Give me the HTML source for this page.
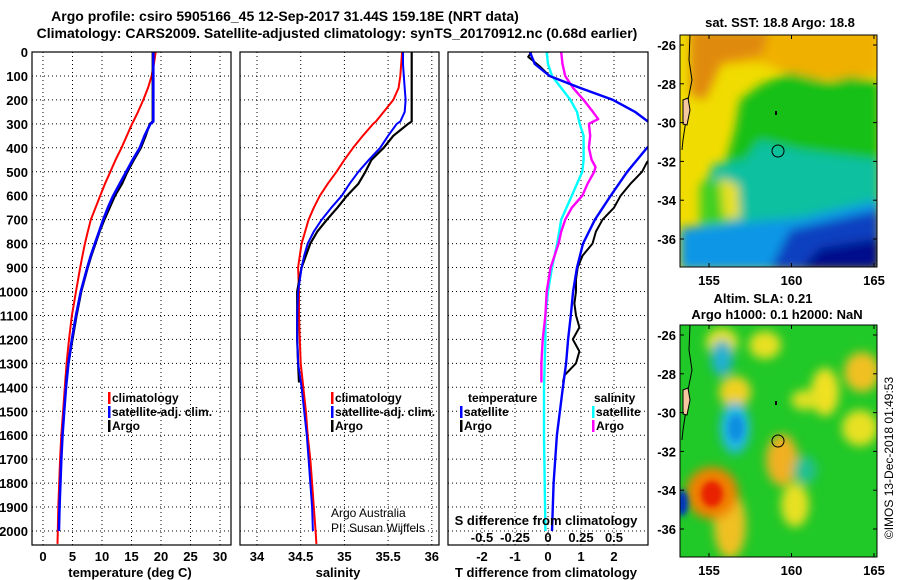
<!DOCTYPE html>
<html><head><meta charset="utf-8"><style>
html,body{margin:0;padding:0;background:#fff;}
svg{display:block;font-family:"Liberation Sans",sans-serif;}
.b{font-weight:bold;}
</style></head><body>
<svg id="c" width="900" height="580" viewBox="0 0 900 580">
<defs>
<clipPath id="cp1"><rect x="32" y="52" width="199" height="493"/></clipPath>
<clipPath id="cp2"><rect x="240" y="52" width="199" height="493"/></clipPath>
<clipPath id="cp3"><rect x="448" y="52" width="200" height="493"/></clipPath>
<clipPath id="cpm1"><rect x="680" y="35" width="197" height="232"/></clipPath>
<clipPath id="cpm2"><rect x="680" y="325" width="197" height="232"/></clipPath>
<filter id="bl" x="-50%" y="-50%" width="200%" height="200%"><feGaussianBlur stdDeviation="5"/></filter>
<filter id="bl2" x="-50%" y="-50%" width="200%" height="200%"><feGaussianBlur stdDeviation="3"/></filter>
</defs>
<text class="b" x="285" y="21" font-size="14" text-anchor="middle">Argo profile: csiro 5905166_45 12-Sep-2017 31.44S 159.18E (NRT data)</text>
<text class="b" x="337" y="38" font-size="14" text-anchor="middle">Climatology: CARS2009. Satellite-adjusted climatology: synTS_20170912.nc (0.68d earlier)</text>

<!-- top map -->
<g clip-path="url(#cpm1)">
<rect x="680" y="35" width="197" height="232" fill="#f0dc00"/>
<g filter="url(#bl)">
<path d="M690,30 L880,30 L880,75 L840,80 L800,78 L760,62 L720,65 L700,90 Z" fill="#f0b000"/>
<path d="M690,30 L770,30 L762,55 L722,62 L705,100 L690,95 Z" fill="#e08a10"/>
<path d="M740,100 L760,85 L790,72 L830,82 L850,76 L880,82 L880,200 L700,210 L700,185 L725,165 L735,130 Z" fill="#14c014"/>
<path d="M712,165 L745,160 L760,140 L800,150 L880,160 L880,235 L700,235 Z" fill="#10c0a0"/>
<path d="M700,185 L720,180 L730,225 L700,230 Z" fill="#40d020"/>
<path d="M720,178 L738,185 L740,218 L724,218 Z" fill="#e8e020"/>
<path d="M680,228 L800,218 L880,200 L880,270 L680,270 Z" fill="#0a96e6"/>
<path d="M790,230 L880,210 L880,270 L770,270 Z" fill="#0a40c0"/>
<path d="M820,248 L880,238 L880,270 L800,270 Z" fill="#00108c"/>
</g>
<path d="M690,35 L689,60 L692,80 L688,100 L686,120 L683,140 L682,150" fill="none" stroke="#000" stroke-width="1"/>
<path d="M683,100 L688,98 L690,110 L687,125 L683,124 Z" fill="#f5c8a0" stroke="#000" stroke-width="1"/>
<circle cx="778" cy="151" r="6" fill="none" stroke="#000" stroke-width="1"/>
<rect x="775" y="111" width="2" height="4" fill="#000"/>
</g>
<rect x="680" y="35" width="197" height="232" fill="none" stroke="#000"/>
<text class="b" x="780" y="27" font-size="13" text-anchor="middle">sat. SST: 18.8 Argo: 18.8</text>

<!-- bottom map -->
<g clip-path="url(#cpm2)">
<rect x="680" y="325" width="197" height="232" fill="#20c828"/>
<g filter="url(#bl)">
<ellipse cx="722" cy="342" rx="16" ry="14" fill="#e8e020"/>
<ellipse cx="765" cy="345" rx="16" ry="14" fill="#e8e020"/>
<ellipse cx="825" cy="392" rx="14" ry="24" fill="#f0e020"/>
<ellipse cx="862" cy="372" rx="18" ry="20" fill="#f0c020"/>
<ellipse cx="735" cy="392" rx="16" ry="16" fill="#f0d020"/>
<ellipse cx="860" cy="428" rx="18" ry="18" fill="#e8e020"/>
<ellipse cx="805" cy="400" rx="14" ry="10" fill="#e0e020"/>
<ellipse cx="782" cy="460" rx="16" ry="26" fill="#f0b020"/>
<ellipse cx="795" cy="505" rx="14" ry="22" fill="#e8e020"/>
<ellipse cx="730" cy="525" rx="16" ry="34" fill="#f0c020"/>
<ellipse cx="722" cy="358" rx="11" ry="18" fill="#20b0d0"/>
<ellipse cx="735" cy="428" rx="15" ry="26" fill="#20b8e0"/>
<ellipse cx="805" cy="470" rx="12" ry="14" fill="#20c090"/>
<ellipse cx="712" cy="493" rx="26" ry="26" fill="#f08000"/>
</g>
<g filter="url(#bl2)">
<ellipse cx="736" cy="428" rx="8" ry="13" fill="#1090e0"/>
<ellipse cx="712" cy="494" rx="11" ry="13" fill="#e82000"/>
<ellipse cx="682" cy="503" rx="6" ry="13" fill="#0030c0"/>
</g>
<path d="M690,325 L689,350 L692,370 L688,390 L686,410 L683,430 L682,440" fill="none" stroke="#000" stroke-width="1"/>
<path d="M683,390 L688,388 L690,400 L687,415 L683,414 Z" fill="#f5c8a0" stroke="#000" stroke-width="1"/>
<circle cx="778" cy="441" r="6" fill="none" stroke="#000" stroke-width="1"/>
<rect x="775" y="401" width="2" height="4" fill="#000"/>
</g>
<rect x="680" y="325" width="197" height="232" fill="none" stroke="#000"/>
<text class="b" x="763" y="303" font-size="13" text-anchor="middle">Altim. SLA: 0.21</text>
<text class="b" x="777" y="319" font-size="13" text-anchor="middle">Argo h1000: 0.1 h2000: NaN</text>
<text x="893" y="458" font-size="12" text-anchor="middle" transform="rotate(-90 893 458)">©IMOS 13-Dec-2018 01:49:53</text>
<g id="maplabels"></g>
<g id="plots"></g>
</svg>
<script>
// ---- data ----
const depthT = [0,50,100,150,200,250,290,300,350,400,450,500,550,600,650,700,750,800,850,900,1000,1100,1200,1300,1400,1500,1600,1700,1800,1900,2000];
const satT = [18.7,18.7,18.7,18.7,18.7,18.7,18.7,18.2,17.2,16.4,15.2,14.1,13.0,11.9,11.0,10.2,9.5,8.8,8.1,7.5,6.4,5.6,4.9,4.3,3.9,3.6,3.3,3.1,2.95,2.8,2.7];
const depthClim = [0,50,100,150,200,250,290,300,350,400,450,500,550,600,650,700,750,800,850,900,1000,1100,1200,1300,1400,1500,1600,1700,1800,1900,2000,2054];
const climT = [19.1,18.8,18.4,17.8,17.0,16.1,15.3,15.1,14.2,13.3,12.3,11.4,10.5,9.7,8.9,8.1,7.6,7.1,6.7,6.3,5.6,4.9,4.4,4.0,3.7,3.4,3.1,2.9,2.75,2.6,2.5,2.45];
const depthArgo = [0,50,100,150,200,250,290,300,350,400,450,500,550,600,650,700,750,800,850,900,1000,1100,1200,1300,1380];
const argoT = [18.6,18.6,18.6,18.6,18.6,18.6,18.6,18.1,17.4,16.6,15.4,14.3,13.4,12.2,11.3,10.4,9.6,8.9,8.2,7.6,6.5,5.7,5.0,4.3,3.9];
const satS = [35.67,35.67,35.68,35.69,35.70,35.69,35.64,35.60,35.50,35.41,35.28,35.16,35.06,34.97,34.85,34.74,34.65,34.58,34.54,34.51,34.47,34.46,34.46,34.47,34.51,34.54,34.57,34.59,34.61,34.63,34.64];
const climS = [35.66,35.65,35.64,35.62,35.56,35.45,35.36,35.33,35.21,35.10,35.00,34.91,34.81,34.72,34.65,34.59,34.55,34.51,34.49,34.47,34.48,34.48,34.49,34.50,34.53,34.56,34.58,34.61,34.63,34.65,34.67,34.68];
const argoS = [35.77,35.77,35.77,35.77,35.77,35.77,35.77,35.73,35.56,35.45,35.31,35.24,35.16,35.03,34.92,34.80,34.69,34.61,34.56,34.51,34.46,34.46,34.46,34.47,34.48];
const depthSatTd = [0,50,100,150,200,250,290,350,400,500,600,700,800,900,1000,1100,1200,1300,1400,1500,1600,1800,2000];
const satTd = [-0.55,-0.4,0.05,0.97,1.97,2.64,3.03,3.6,3.0,2.4,1.9,1.42,1.06,0.88,0.76,0.69,0.61,0.55,0.45,0.36,0.27,0.17,0.12];
const depthArgoTd = [0,20,60,100,150,200,250,290,350,460,500,550,600,650,700,750,800,850,900,950,1000,1050,1100,1150,1200,1250,1300,1350,1380];
const argoTd = [-0.5,-0.6,-0.25,0.05,0.97,1.97,2.64,3.03,3.8,3.0,2.85,2.5,2.2,2.0,1.65,1.45,1.35,1.05,0.9,0.85,0.85,0.8,0.85,0.95,0.75,0.95,0.85,0.5,0.45];
const depthSatSd = [0,50,100,150,200,250,300,350,400,450,500,550,600,650,700,800,900,1000,1100,1200,1400,1600,2000];
const satSd = [-0.01,0.0,0.03,0.1,0.17,0.22,0.24,0.27,0.27,0.27,0.26,0.22,0.18,0.14,0.1,0.07,0.03,0.0,-0.02,-0.02,-0.03,-0.03,-0.02];
const depthArgoSd = [0,50,100,150,200,250,280,300,350,400,450,480,500,550,600,650,700,750,800,900,1000,1100,1200,1300,1380];
const argoSd = [0.1,0.11,0.13,0.19,0.27,0.34,0.38,0.31,0.32,0.31,0.33,0.36,0.35,0.3,0.26,0.18,0.13,0.1,0.08,0.02,-0.01,-0.02,-0.04,-0.05,-0.05];
const depthTicks = [0,100,200,300,400,500,600,700,800,900,1000,1100,1200,1300,1400,1500,1600,1700,1800,1900,2000];
const tempTicks = [0,5,10,15,20,25,30];
const salTicks = [34,34.5,35,35.5,36];
const salTickLabels = ["34","34.5","35","35.5","36"];
const tdTicks = [-2,-1,0,1,2];
const sdTicks = [-0.5,-0.25,0,0.25,0.5];
const sdTickLabels = ["-0.5","-0.25","0","0.25","0.5"];
const latTicks = [-26,-28,-30,-32,-34,-36];
const lonTicks = [155,160,165];

// ---- axes ----
const TOP=52, BOT=545;
const yD = d => TOP + d*0.2395;
const xT = t => 43 + 5.9*t;
const xS = s => 257 + 87.4*(s-34);
const xTd = d => 548 + 33*d;
const xSd = d => 548 + 132*d;
const yLat = (lat,off) => 45 + off + (-26-lat)*19.4;
const xLon = lon => 709 + 16.5*(lon-155);
const NS='http://www.w3.org/2000/svg';
const root=document.getElementById('plots');
function mk(tag, attrs, parent){const e=document.createElementNS(NS,tag);for(const k in attrs)e.setAttribute(k,attrs[k]);(parent||root).appendChild(e);return e;}
function txt(x,y,s,size,anchor,bold,parent){const e=mk('text',{x:x,y:y,'font-size':size,'text-anchor':anchor||'start','font-weight':bold?'bold':'normal'},parent);e.textContent=s;return e;}

const panels=[{x:32,w:199,cp:'cp1',name:'temperature'},{x:240,w:199,cp:'cp2',name:'salinity'},{x:448,w:200,cp:'cp3',name:'difference'}];
panels.forEach(p=>{
  const g=mk('g',{});
  
  
  depthTicks.forEach(d=>{ if(d>0){const l=mk('line',{x1:p.x,x2:p.x+p.w,y1:yD(d),y2:yD(d),stroke:'#000','stroke-dasharray':'1 3','stroke-width':1},g);
    
    }});
  p.g=g;
});
function vgrid(vals,fx,g){vals.forEach(v=>{const l=mk('line',{x1:fx(v),x2:fx(v),y1:TOP,y2:BOT,stroke:'#000','stroke-dasharray':'1 3','stroke-width':1},g);
  
  });}
vgrid(tempTicks,xT,panels[0].g);
vgrid(salTicks,xS,panels[1].g);
vgrid(tdTicks,xTd,panels[2].g);

function line(xs,ds,fx,color,w,cp,name){
  const pts=xs.map((v,i)=>fx(v).toFixed(1)+','+yD(ds[i]).toFixed(1)).join(' ');
  const e=mk('polyline',{points:pts,fill:'none',stroke:color,'stroke-width':w,'clip-path':'url(#'+cp+')','stroke-linejoin':'round'});
  
  
}
line(climT,depthClim,xT,'#ff0000',2,'cp1','temperature-climatology-line');
line(argoT,depthArgo,xT,'#000',2.2,'cp1','temperature-argo-line');
line(satT,depthT,xT,'#0000ff',2.6,'cp1','temperature-satellite-line');
line(climS,depthClim,xS,'#ff0000',2,'cp2','salinity-climatology-line');
line(argoS,depthArgo,xS,'#000',2.2,'cp2','salinity-argo-line');
line(satS,depthT,xS,'#0000ff',2,'cp2','salinity-satellite-line');
line(satSd,depthSatSd,xSd,'#00ffff',2.4,'cp3','s-diff-satellite-line');
line(argoSd,depthArgoSd,xSd,'#ff00ff',2.4,'cp3','s-diff-argo-line');
line(argoTd,depthArgoTd,xTd,'#000',2,'cp3','t-diff-argo-line');
line(satTd,depthSatTd,xTd,'#0000ff',2.4,'cp3','t-diff-satellite-line');

panels.forEach(p=>{const r=mk('rect',{x:p.x,y:TOP,width:p.w,height:BOT-TOP,fill:'none',stroke:'#000','stroke-width':1.2});
  
  });

// tick labels
depthTicks.forEach(d=>{const t=txt(28,yD(d)+5,String(d),13,'end',true);
  
  });
tempTicks.forEach(v=>{const t=txt(xT(v),561,String(v),13,'middle',true);
  
  });
salTicks.forEach((v,i)=>{const t=txt(xS(v),561,salTickLabels[i],13,'middle',true);
  
  });
tdTicks.forEach(v=>{const t=txt(xTd(v),561,String(v),13,'middle',true);
  
  });
sdTicks.forEach((v,i)=>{const t=txt(xSd(v),542,sdTickLabels[i],13,'middle',true);
  
  });
let t;
t=txt(130,577,'temperature (deg C)',13,'middle',true);


t=txt(338,577,'salinity',13,'middle',true);


t=txt(546,577,'T difference from climatology',13,'middle',true);


t=txt(546,525,'S difference from climatology',13,'middle',true);


t=txt(331,517,'Argo Australia',12,'start',false);


t=txt(331,532,'PI: Susan Wijffels',12,'start',false);



// legends
function leg(x,y,color,label){
  const r=mk('rect',{x:x,y:y-10,width:2.5,height:12,fill:color});
  
  
  const tt=txt(x+4,y,label,12,'start',true);
  
  
}
leg(108,402,'#ff0000','climatology');leg(108,416,'#0000ff','satellite-adj. clim.');leg(108,430,'#000','Argo');
leg(331,402,'#ff0000','climatology');leg(331,416,'#0000ff','satellite-adj. clim.');leg(331,430,'#000','Argo');
t=txt(468,402,'temperature',12,'start',true);


t=txt(594,402,'salinity',12,'start',true);


leg(460,416,'#0000ff','satellite');leg(460,430,'#000','Argo');
leg(592,416,'#00ffff','satellite');leg(592,430,'#ff00ff','Argo');

// map labels
const ml=document.getElementById('maplabels');
[0,290].forEach(off=>{
  latTicks.forEach(lat=>{const y=yLat(lat,off);
    const a=txt(676,y+5,String(lat),13,'end',true,ml);
    
    
    mk('line',{x1:680,x2:684,y1:y,y2:y,stroke:'#000'},ml);
    mk('line',{x1:873,x2:877,y1:y,y2:y,stroke:'#000'},ml);
  });
  lonTicks.forEach(lon=>{const x=xLon(lon);
    const a=txt(x,285+off,String(lon),13,'middle',true,ml);
    
    
    mk('line',{x1:x,x2:x,y1:35+off,y2:39+off,stroke:'#000'},ml);
    mk('line',{x1:x,x2:x,y1:263+off,y2:267+off,stroke:'#000'},ml);
  });
});
</script>
</body></html>
